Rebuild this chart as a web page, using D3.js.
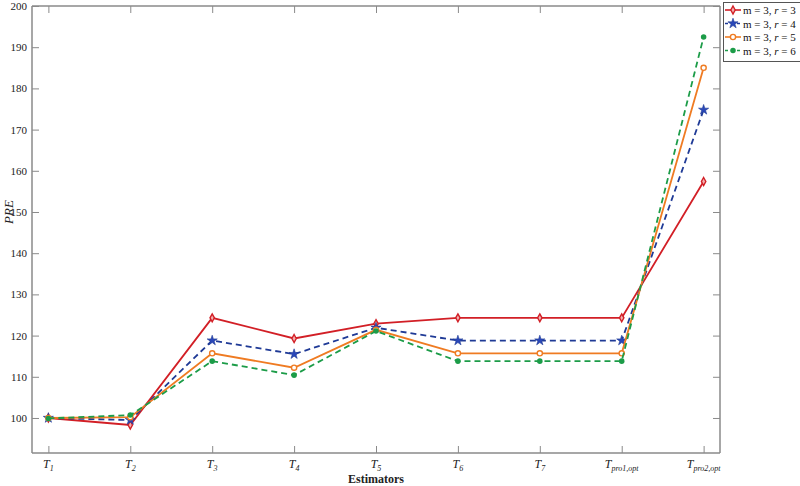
<!DOCTYPE html>
<html>
<head>
<meta charset="utf-8">
<script src="https://cdn.jsdelivr.net/npm/d3@7"></script>
<style>
  body { margin: 0; background: #fff; }
  text { font-family: "Liberation Serif", "DejaVu Serif", serif; }
</style>
</head>
<body>
<svg id="chart" width="800" height="486"></svg>
<script>
// estimators (x categories), drawn as T with a subscript
var estimators = ["1", "2", "3", "4", "5", "6", "7", "pro1,opt", "pro2,opt"];
var yTicks = [100, 110, 120, 130, 140, 150, 160, 170, 180, 190, 200];

// PRE values
var pre_r3 = [100, 98.3, 124.3, 119.3, 122.9, 124.3, 124.3, 124.3, 157.4];
var pre_r4 = [100, 99.5, 118.8, 115.5, 121.9, 118.8, 118.8, 118.8, 174.8];
var pre_r5 = [100, 100.2, 115.7, 112.2, 121.4, 115.7, 115.7, 115.7, 185.0];
var pre_r6 = [99.9, 100.7, 113.8, 110.4, 121.1, 113.8, 113.8, 113.8, 192.5];

var seriesNames = ["3", "4", "5", "6"];

var series = [
  { r: seriesNames[0], values: pre_r3, color: "#d21f26", dash: null, marker: "diamond" },
  { r: seriesNames[1], values: pre_r4, color: "#1f3a96", dash: "6,4", marker: "star" },
  { r: seriesNames[2], values: pre_r5, color: "#ef7b22", dash: null, marker: "ocircle" },
  { r: seriesNames[3], values: pre_r6, color: "#1c9c48", dash: "6,4", marker: "dot" }
];

var svg = d3.select("#chart");
var pLeft = 32, pRight = 720, pTop = 6, pBottom = 453;
var axisColor = "#8a8a8a";

var x = d3.scaleLinear().domain([-0.2, 8.2]).range([pLeft, pRight]);
var y = d3.scaleLinear().domain([91.5, 200]).range([pBottom, pTop]);

// box + inward ticks (matlab style)
var gL = svg.append("g").attr("transform", "translate(" + pLeft + ",0)")
  .call(d3.axisLeft(y).tickValues(yTicks).tickSizeInner(-7).tickSizeOuter(0).tickPadding(5));
var gR = svg.append("g").attr("transform", "translate(" + pRight + ",0)")
  .call(d3.axisRight(y).tickValues(yTicks).tickSizeInner(-7).tickSizeOuter(0).tickFormat(""));
var gB = svg.append("g").attr("transform", "translate(0," + pBottom + ")")
  .call(d3.axisBottom(x).tickValues(d3.range(estimators.length)).tickSizeInner(-7).tickSizeOuter(0).tickFormat(""));
var gT = svg.append("g").attr("transform", "translate(0," + pTop + ")")
  .call(d3.axisTop(x).tickValues(d3.range(estimators.length)).tickSizeInner(-7).tickSizeOuter(0).tickFormat(""));

[gL, gR, gB, gT].forEach(function (g) {
  g.select(".domain").attr("stroke", axisColor).attr("stroke-width", 1.5);
  g.selectAll(".tick line").attr("stroke", axisColor).attr("stroke-width", 1);
});
gL.select(".domain").attr("d", "M0," + pBottom + "V" + pTop);
gR.select(".domain").attr("d", "M0," + pBottom + "V" + pTop);
gB.select(".domain").attr("d", "M" + pLeft + ",0H" + pRight);
gT.select(".domain").attr("d", "M" + pLeft + ",0H" + pRight);
gL.selectAll(".tick text").attr("font-size", 11).attr("fill", "#222")
  .attr("font-family", "Liberation Serif, serif");

// x tick labels with subscripts
estimators.forEach(function (sub, i) {
  var t = svg.append("text")
    .attr("x", x(i)).attr("y", pBottom + 15)
    .attr("text-anchor", "middle")
    .attr("font-size", 12).attr("fill", "#222");
  t.append("tspan").attr("font-style", "italic").text("T");
  t.append("tspan").attr("font-style", "italic").attr("font-size", 8).attr("dy", 3).text(sub);
});

// axis titles
svg.append("text")
  .attr("x", x(4)).attr("y", pBottom + 30)
  .attr("text-anchor", "middle")
  .attr("font-size", 12).attr("font-weight", "bold").attr("fill", "#222")
  .text("Estimators");
svg.append("text")
  .attr("transform", "translate(13," + y(150) + ") rotate(-90)")
  .attr("text-anchor", "middle")
  .attr("font-size", 13).attr("font-style", "italic").attr("fill", "#222")
  .text("PRE");

var line = d3.line()
  .x(function (d, i) { return x(i); })
  .y(function (d) { return y(d); });

var starSym = d3.symbol().type(d3.symbolStar).size(32);
var dotSym = d3.symbol().type(d3.symbolCircle).size(24);

function drawMarker(g, type, color, px, py) {
  if (type === "diamond") {
    g.append("path")
      .attr("d", "M" + px + "," + (py - 4) + "L" + (px + 2.2) + "," + py + "L" + px + "," + (py + 4) + "L" + (px - 2.2) + "," + py + "Z")
      .attr("fill", "#f3b0b0").attr("stroke", color).attr("stroke-width", 1.4);
  } else if (type === "star") {
    g.append("path").attr("d", starSym())
      .attr("transform", "translate(" + px + "," + py + ")")
      .attr("fill", "#2a47b8").attr("stroke", color).attr("stroke-width", 0.6);
  } else if (type === "ocircle") {
    g.append("circle").attr("cx", px).attr("cy", py).attr("r", 2.6)
      .attr("fill", "#fff").attr("stroke", color).attr("stroke-width", 1.4);
  } else {
    g.append("path").attr("d", dotSym())
      .attr("transform", "translate(" + px + "," + py + ")")
      .attr("fill", color);
  }
}

series.forEach(function (s) {
  var g = svg.append("g");
  g.append("path")
    .datum(s.values)
    .attr("d", line)
    .attr("fill", "none")
    .attr("stroke", s.color)
    .attr("stroke-width", 1.8)
    .attr("stroke-dasharray", s.dash);
  s.values.forEach(function (v, i) {
    drawMarker(g, s.marker, s.color, x(i), y(v));
  });
});

// legend
var lg = svg.append("g");
lg.append("rect")
  .attr("x", 723.5).attr("y", 2.5).attr("width", 80).attr("height", 59)
  .attr("fill", "#fff").attr("stroke", "#555").attr("stroke-width", 1);
series.forEach(function (s, i) {
  var ly = 10 + i * 13.5;
  lg.append("line")
    .attr("x1", 725).attr("x2", 741).attr("y1", ly).attr("y2", ly)
    .attr("stroke", s.color).attr("stroke-width", 1.6)
    .attr("stroke-dasharray", s.dash ? "3,3" : null);
  drawMarker(lg, s.marker, s.color, 733, ly);
  var t = lg.append("text").attr("x", 743).attr("y", ly + 4)
    .attr("font-family", "Liberation Serif, serif")
    .attr("font-size", 11).attr("fill", "#111");
  t.append("tspan").text("m");
  t.append("tspan").text(" = 3, ");
  t.append("tspan").attr("font-style", "italic").text("r");
  t.append("tspan").text(" = " + s.r);
});
</script>
</body>
</html>
